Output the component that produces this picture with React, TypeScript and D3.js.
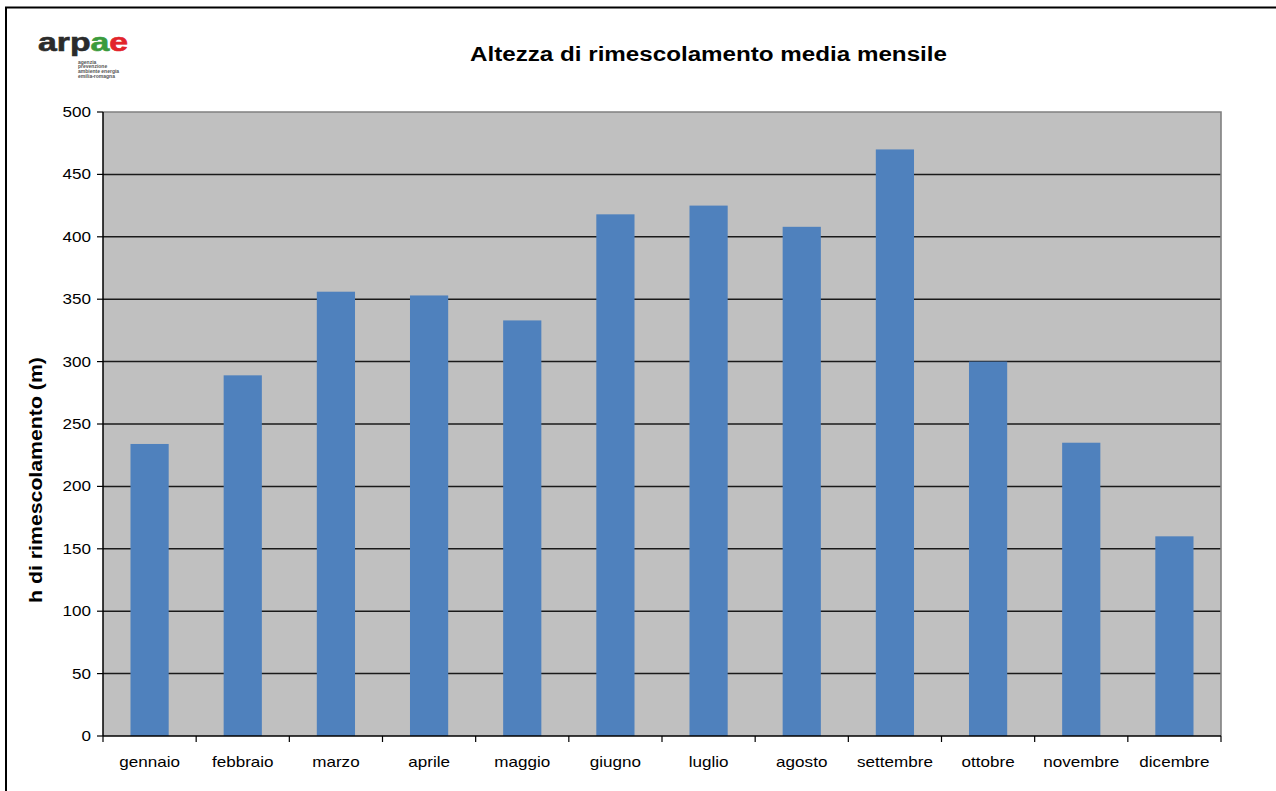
import React from "react";
import * as d3 from "d3";

const months = [
  "gennaio", "febbraio", "marzo", "aprile", "maggio", "giugno",
  "luglio", "agosto", "settembre", "ottobre", "novembre", "dicembre",
];
const heights = [234, 289, 356, 353, 333, 418, 425, 408, 470, 300, 235, 160];
const yTicks = [0, 50, 100, 150, 200, 250, 300, 350, 400, 450, 500];
const title = "Altezza di rimescolamento media mensile";
const yLabel = "h di rimescolamento (m)";
const logoLines = ["agenzia", "prevenzione", "ambiente energia", "emilia-romagna"];

const W = 1276;
const H = 791;
const plot = { left: 103, right: 1221, top: 112, bottom: 736 };
const FONT = "'Liberation Sans', Arial, sans-serif";
const SX = 1.22;

export default function App() {
  const x = d3.scaleBand<string>().domain(months).range([plot.left, plot.right]).padding(0);
  const y = d3.scaleLinear().domain([0, 500]).range([plot.bottom, plot.top]);
  const barW = x.bandwidth() * 0.41;
  const boundaries = d3.range(months.length + 1).map((i) => plot.left + i * x.step());

  return (
    <div style={{ position: "absolute", left: 0, top: 0 }}>
      <svg width={W} height={H} style={{ display: "block", background: "#fff" }}>
        {/* outer frame */}
        <path d={`M6,${H} V7.5 H${W}`} fill="none" stroke="#000" strokeWidth={2} />

        {/* logo */}
        <g transform={`translate(38,51) scale(1.3,1)`} fontFamily={FONT} fontWeight="bold" fontSize={26}>
          <text stroke="currentColor" strokeWidth={0.6} style={{ color: "#2b2b2b" }}>
            <tspan fill="#2b2b2b" stroke="#2b2b2b">arp</tspan>
            <tspan fill="#3a9b3c" stroke="#3a9b3c">a</tspan>
            <tspan fill="#e2242b" stroke="#e2242b">e</tspan>
          </text>
        </g>
        {logoLines.map((t, i) => (
          <text key={t} x={78} y={63.5 + i * 4.8} fontFamily={FONT} fontSize={5} fontWeight="bold" fill="#555">
            {t}
          </text>
        ))}

        {/* title */}
        <g transform={`translate(708.5,61) scale(1.18,1)`}>
          <text textAnchor="middle" fontFamily={FONT} fontWeight="bold" fontSize={20.5} fill="#000">
            {title}
          </text>
        </g>

        {/* plot background */}
        <rect x={plot.left} y={plot.top} width={plot.right - plot.left} height={plot.bottom - plot.top} fill="#c0c0c0" />

        {/* gridlines */}
        {yTicks.filter((t) => t > 0 && t < 500).map((t) => (
          <line key={t} x1={plot.left} x2={plot.right} y1={y(t)} y2={y(t)} stroke="#1a1a1a" strokeWidth={1.5} />
        ))}

        {/* bars */}
        {months.map((m, i) => (
          <rect
            key={m}
            x={(x(m) as number) + (x.bandwidth() - barW) / 2}
            y={y(heights[i])}
            width={barW}
            height={plot.bottom - y(heights[i])}
            fill="#4f81bd"
          />
        ))}

        {/* plot border top/right */}
        <path d={`M${plot.left},${plot.top} H${plot.right} V${plot.bottom}`} fill="none" stroke="#808080" strokeWidth={1.6} />

        {/* axes */}
        <line x1={plot.left} x2={plot.left} y1={plot.top} y2={plot.bottom} stroke="#000" strokeWidth={1.5} />
        <line x1={plot.left} x2={plot.right} y1={plot.bottom} y2={plot.bottom} stroke="#000" strokeWidth={1.5} />

        {/* y ticks & labels */}
        {yTicks.map((t) => (
          <g key={t}>
            <line x1={plot.left - 6} x2={plot.left} y1={y(t)} y2={y(t)} stroke="#000" strokeWidth={1.2} />
            <g transform={`translate(91,${y(t) + 5}) scale(${SX},1)`}>
              <text textAnchor="end" fontFamily={FONT} fontSize={14} fill="#000">
                {t}
              </text>
            </g>
          </g>
        ))}

        {/* x ticks */}
        {boundaries.map((b, i) => (
          <line key={i} x1={b} x2={b} y1={plot.bottom} y2={plot.bottom + 6} stroke="#000" strokeWidth={1.2} />
        ))}

        {/* x labels */}
        {months.map((m) => (
          <g key={m} transform={`translate(${(x(m) as number) + x.bandwidth() / 2},767) scale(${SX},1)`}>
            <text textAnchor="middle" fontFamily={FONT} fontSize={14} fill="#000">
              {m}
            </text>
          </g>
        ))}

        {/* y axis label */}
        <g transform={`translate(42,480) rotate(-90) scale(1.12,1)`}>
          <text textAnchor="middle" fontFamily={FONT} fontWeight="bold" fontSize={19} fill="#000">
            {yLabel}
          </text>
        </g>
      </svg>
    </div>
  );
}
